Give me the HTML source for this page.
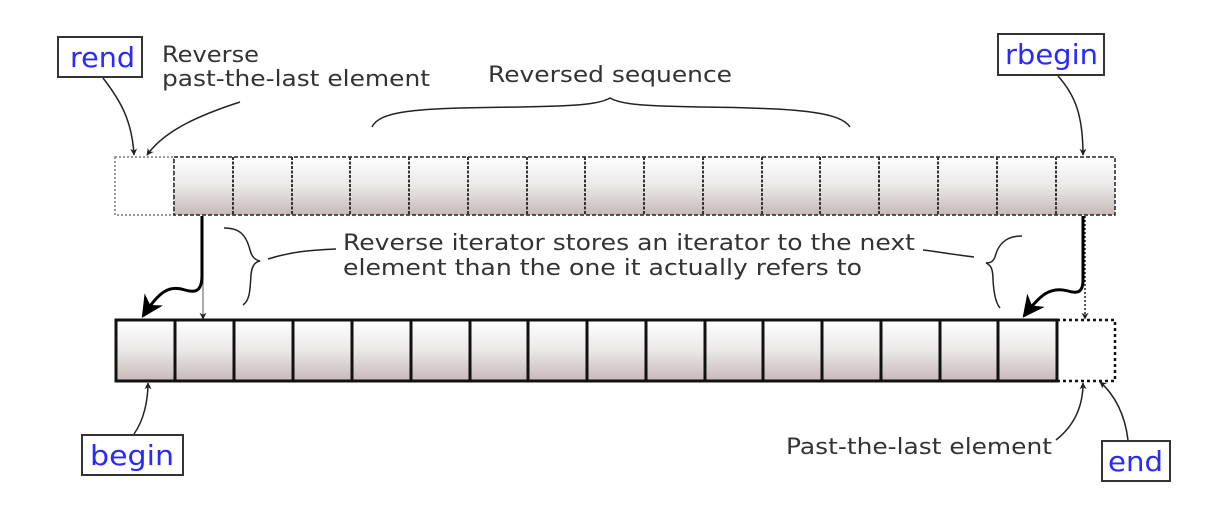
<!DOCTYPE html>
<html><head><meta charset="utf-8"><style>
html,body{margin:0;padding:0;background:#fff;}
svg{display:block;}
text{font-family:"DejaVu Sans","Liberation Sans",sans-serif;}
</style></head><body>
<svg width="1232" height="512" viewBox="0 0 1232 512" xmlns="http://www.w3.org/2000/svg">
<defs>
<linearGradient id="g" x1="0" y1="0" x2="0" y2="1">
<stop offset="0" stop-color="#ffffff"/><stop offset="0.5" stop-color="#ebe8e8"/><stop offset="1" stop-color="#c6b8b8"/>
</linearGradient>
<marker id="a" viewBox="0 0 10 10" refX="9" refY="5" markerWidth="7" markerHeight="7" orient="auto" markerUnits="userSpaceOnUse">
<path d="M0,0 L10,5 L0,10 L3,5 z" fill="#222"/></marker>
<marker id="b" viewBox="0 0 10 10" refX="9" refY="5" markerWidth="22" markerHeight="22" orient="auto" markerUnits="userSpaceOnUse">
<path d="M0,0 L10,5 L0,10 L3,5 z" fill="#000"/></marker>
</defs>

<rect x="115" y="157" width="59" height="58" fill="#fff" stroke="#777" stroke-width="1.5" stroke-dasharray="2,2"/>
<rect x="174" y="157" width="941" height="58" fill="url(#g)" stroke="#222" stroke-width="1.5" stroke-dasharray="4,2"/>
<g stroke="#333" stroke-width="2" stroke-dasharray="3,1.5">
<line x1="233" y1="157" x2="233" y2="215"/><line x1="292" y1="157" x2="292" y2="215"/>
<line x1="350" y1="157" x2="350" y2="215"/><line x1="409" y1="157" x2="409" y2="215"/>
<line x1="468" y1="157" x2="468" y2="215"/><line x1="527" y1="157" x2="527" y2="215"/>
<line x1="585" y1="157" x2="585" y2="215"/><line x1="644" y1="157" x2="644" y2="215"/>
<line x1="703" y1="157" x2="703" y2="215"/><line x1="762" y1="157" x2="762" y2="215"/>
<line x1="820" y1="157" x2="820" y2="215"/><line x1="879" y1="157" x2="879" y2="215"/>
<line x1="938" y1="157" x2="938" y2="215"/><line x1="997" y1="157" x2="997" y2="215"/>
<line x1="1056" y1="157" x2="1056" y2="215"/>
</g>

<rect x="1057" y="320" width="58" height="61" fill="#fff" stroke="#111" stroke-width="2.5" stroke-dasharray="3,3"/>
<rect x="116" y="320" width="941" height="61" fill="url(#g)" stroke="#111" stroke-width="3"/>
<g stroke="#111" stroke-width="3">
<line x1="175" y1="320" x2="175" y2="381"/><line x1="234" y1="320" x2="234" y2="381"/>
<line x1="293" y1="320" x2="293" y2="381"/><line x1="352" y1="320" x2="352" y2="381"/>
<line x1="411" y1="320" x2="411" y2="381"/><line x1="470" y1="320" x2="470" y2="381"/>
<line x1="528" y1="320" x2="528" y2="381"/><line x1="587" y1="320" x2="587" y2="381"/>
<line x1="646" y1="320" x2="646" y2="381"/><line x1="705" y1="320" x2="705" y2="381"/>
<line x1="763" y1="320" x2="763" y2="381"/><line x1="822" y1="320" x2="822" y2="381"/>
<line x1="881" y1="320" x2="881" y2="381"/><line x1="940" y1="320" x2="940" y2="381"/>
<line x1="998" y1="320" x2="998" y2="381"/>
</g>

<rect x="58" y="37" width="84" height="40" fill="#fff" stroke="#333" stroke-width="2"/>
<text x="70" y="67" font-size="28" fill="#2a2aff" textLength="65" lengthAdjust="spacingAndGlyphs">rend</text>
<rect x="998" y="34" width="106" height="41" fill="#fff" stroke="#333" stroke-width="2"/>
<text x="1005" y="64" font-size="28" fill="#2a2aff" textLength="93" lengthAdjust="spacingAndGlyphs">rbegin</text>
<rect x="82" y="435" width="101" height="40" fill="#fff" stroke="#333" stroke-width="2"/>
<text x="90" y="465" font-size="28" fill="#2a2aff" textLength="84" lengthAdjust="spacingAndGlyphs">begin</text>
<rect x="1102" y="441" width="68" height="40" fill="#fff" stroke="#333" stroke-width="2"/>
<text x="1108" y="471" font-size="28" fill="#2a2aff" textLength="55" lengthAdjust="spacingAndGlyphs">end</text>

<g fill="#333" font-size="22">
<text x="162" y="62" textLength="97" lengthAdjust="spacingAndGlyphs">Reverse</text>
<text x="162" y="86" textLength="268" lengthAdjust="spacingAndGlyphs">past-the-last element</text>
<text x="488" y="82" textLength="244" lengthAdjust="spacingAndGlyphs">Reversed sequence</text>
<text x="343" y="250" textLength="572" lengthAdjust="spacingAndGlyphs">Reverse iterator stores an iterator to the next</text>
<text x="343" y="275" textLength="519" lengthAdjust="spacingAndGlyphs">element than the one it actually refers to</text>
<text x="786" y="454" textLength="266" lengthAdjust="spacingAndGlyphs">Past-the-last element</text>
</g>

<g fill="none" stroke="#222" stroke-width="1.5">
<path d="M103,78 C120,100 132,120 134,155" marker-end="url(#a)"/>
<path d="M240,102 C200,115 165,130 147,155" marker-end="url(#a)"/>
<path d="M1058,76 C1075,95 1083,115 1083,155" marker-end="url(#a)"/>
<path d="M203,216 L203,319" stroke="#555" stroke-width="1" marker-end="url(#a)"/>
<path d="M1085,216 L1085,319" stroke-dasharray="2,2" marker-end="url(#a)"/>
<path d="M134,434 C144,420 148,400 148,383" marker-end="url(#a)"/>
<path d="M1056,440 C1075,425 1083,405 1083,383" marker-end="url(#a)"/>
<path d="M1128,440 C1125,415 1115,395 1100,382" marker-end="url(#a)"/>
<path d="M372,127 C380,110 420,108 520,107 C580,106 600,104 610,98 C620,104 640,106 700,107 C800,108 840,112 850,127"/>
<path d="M224,228 C240,228 246,235 250,250 C252,258 256,260 260,261 C256,262 252,264 251,275 C250,290 250,300 243,305"/>
<path d="M268,259 C290,252 310,250 336,249"/>
<path d="M1022,236 C1005,236 998,245 995,257 C993,262 990,263 986,263 C990,265 993,267 993,280 C994,295 996,303 1000,308"/>
<path d="M974,257 C950,254 940,252 923,250"/>
</g>

<g fill="none" stroke="#000" stroke-width="3">
<path d="M202,216 L202,275 C202,292 195,293 185,290 C170,285 160,290 143,316" marker-end="url(#b)"/>
<path d="M1083,216 L1083,280 C1083,292 1078,294 1068,291 C1050,286 1040,295 1024,316" marker-end="url(#b)"/>
</g>
</svg>
</body></html>
